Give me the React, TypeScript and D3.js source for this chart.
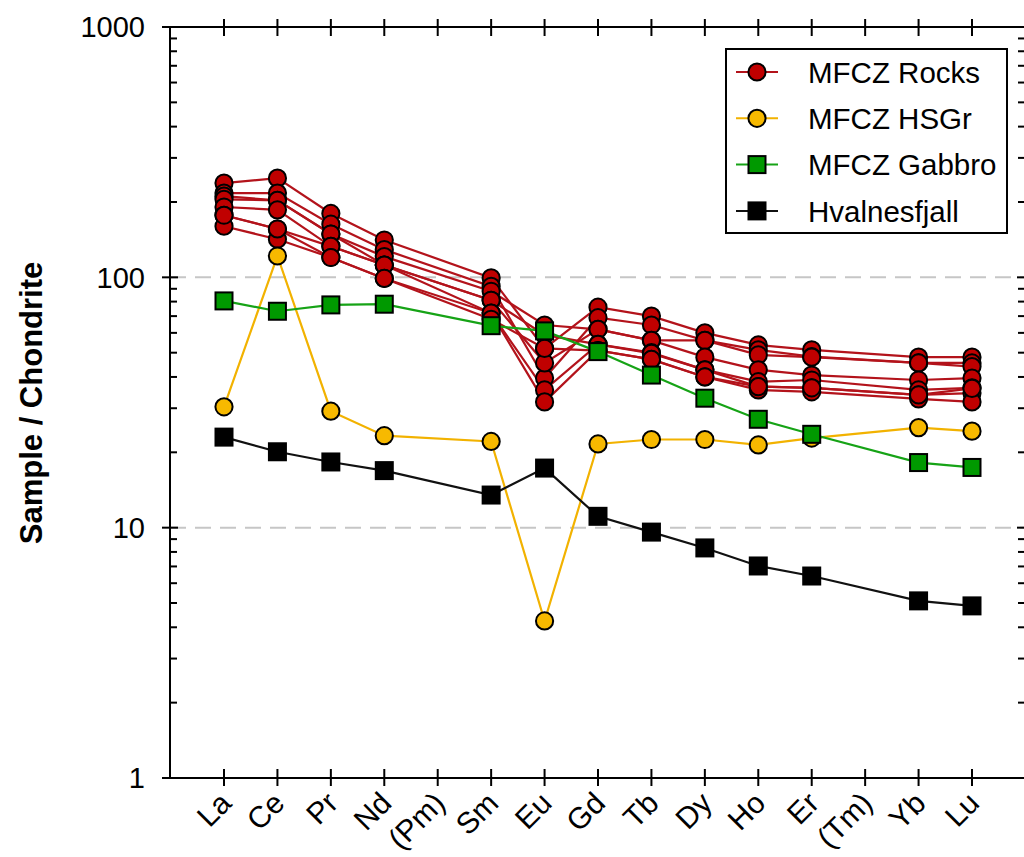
import React from "react";
import * as d3 from "d3";

// Rare earth elements along the x axis (promethium and thulium have no data)
const elements = ["La", "Ce", "Pr", "Nd", "(Pm)", "Sm", "Eu", "Gd", "Tb", "Dy", "Ho", "Er", "(Tm)", "Yb", "Lu"];
const measured = ["La", "Ce", "Pr", "Nd", "Sm", "Eu", "Gd", "Tb", "Dy", "Ho", "Er", "Yb", "Lu"];

// Chondrite-normalised values, in the order of `measured`
const rocks: number[][] = [
  [238, 249, 180, 141, 99.5, 52, 76, 70, 60, 53.7, 51.3, 48, 48],
  [217, 217, 163, 129, 92, 39.6, 69, 64.5, 56, 51.3, 48.2, 45.5, 45.5],
  [211, 203, 149, 121, 88, 64.5, 62, 56, 56, 49, 48, 45.5, 44],
  [205, 203, 149, 112, 81, 45.5, 62, 56, 48, 42.7, 40.7, 38.9, 39.6],
  [191, 186, 133, 112, 81, 58.9, 54, 50, 42.7, 38.3, 38.9, 35.5, 36.2],
  [177, 156, 133, 112, 72, 35.5, 54, 49.7, 42.7, 36.6, 36.2, 33.9, 34.5],
  [160, 142, 120, 99, 72, 31.8, 51, 47, 40, 35.5, 34.9, 32.7, 31.8],
  [177, 156, 120, 99, 68, 52, 51, 47, 40, 36.6, 36.2, 33.9, 36],
];
const hsgr = [30.4, 121.7, 29.2, 23.3, 22.1, 4.24, 21.6, 22.5, 22.5, 21.4, 22.8, 25.1, 24.3];
const gabbro = [80.5, 73.2, 77.6, 78.1, 64.1, 61.1, 50.5, 40.7, 32.9, 27.1, 23.6, 18.2, 17.4];
const hvalnesfjall = [23.0, 20.1, 18.3, 16.9, 13.5, 17.3, 11.1, 9.6, 8.3, 7.03, 6.41, 5.1, 4.87];

const legendLabels = ["MFCZ Rocks", "MFCZ HSGr", "MFCZ Gabbro", "Hvalnesfjall"];
const yMajor = [1, 10, 100, 1000];
const gridValues = [10, 100];

const FONT = "'Liberation Sans', Arial, Helvetica, sans-serif";

const W = 1024;
const H = 857;
const left = 170;
const right = 1025;
const top = 27;
const bottom = 778;

const x = d3.scalePoint<string>().domain(elements).range([224, 972]);
const y = d3.scaleLog().domain([1, 1000]).range([bottom, top]);

type Style = { line: string; fill: string; shape: "circle" | "square" };
const styles: Style[] = [
  { line: "#b3131b", fill: "#c00000", shape: "circle" },
  { line: "#f2b200", fill: "#f7b900", shape: "circle" },
  { line: "#16a316", fill: "#009900", shape: "square" },
  { line: "#111111", fill: "#000000", shape: "square" },
];

const lineGen = d3
  .line<[string, number]>()
  .x((d) => x(d[0]) as number)
  .y((d) => y(d[1]));

function pairs(vals: number[]): [string, number][] {
  return measured.map((m, i) => [m, vals[i]] as [string, number]);
}

function Marker({ cx, cy, s }: { cx: number; cy: number; s: Style }) {
  if (s.shape === "circle") {
    return <circle cx={cx} cy={cy} r={8.6} fill={s.fill} stroke="#000" strokeWidth={2} />;
  }
  return <rect x={cx - 8.5} y={cy - 8.5} width={17} height={17} fill={s.fill} stroke="#000" strokeWidth={2} />;
}

function Series({ data, s }: { data: number[][]; s: Style }) {
  return (
    <g>
      {data.map((vals, i) => (
        <path key={"l" + i} d={lineGen(pairs(vals)) || ""} fill="none" stroke={s.line} strokeWidth={2.2} />
      ))}
      {data.map((vals, i) => (
        <g key={"m" + i}>
          {pairs(vals).map(([m, v]) => (
            <Marker key={m} cx={x(m) as number} cy={y(v)} s={s} />
          ))}
        </g>
      ))}
    </g>
  );
}

export default function App() {
  const allTicks = y.ticks();
  const minor = allTicks.filter((t) => !yMajor.includes(t));

  return (
    <svg width={W} height={H} style={{ position: "absolute", left: 0, top: 0, background: "#fff" }} fontFamily={FONT}>
      <rect width={W} height={H} fill="#fff" />

      {/* dashed reference lines */}
      {gridValues.map((g) => (
        <line key={g} x1={left} x2={right} y1={y(g)} y2={y(g)} stroke="#c6c6c6" strokeWidth={2} strokeDasharray="16 9" />
      ))}

      {/* data */}
      <Series data={rocks} s={styles[0]} />
      <Series data={[hsgr]} s={styles[1]} />
      <Series data={[gabbro]} s={styles[2]} />
      <Series data={[hvalnesfjall]} s={styles[3]} />

      {/* frame */}
      <g stroke="#000" strokeWidth={2}>
        <line x1={left} x2={left} y1={top} y2={bottom} />
        <line x1={right} x2={right} y1={top} y2={bottom} />
        <line x1={left} x2={right} y1={top} y2={top} />
        <line x1={left} x2={right} y1={bottom} y2={bottom} />
        {yMajor.map((t) => (
          <g key={"M" + t}>
            <line x1={left - 8} x2={left + 8} y1={y(t)} y2={y(t)} />
            <line x1={right - 8} x2={right + 8} y1={y(t)} y2={y(t)} />
          </g>
        ))}
        {minor.map((t) => (
          <g key={"m" + t}>
            <line x1={left} x2={left + 7} y1={y(t)} y2={y(t)} />
            <line x1={right - 7} x2={right} y1={y(t)} y2={y(t)} />
          </g>
        ))}
        {elements.map((e) => (
          <g key={"t" + e}>
            <line x1={x(e) as number} x2={x(e) as number} y1={bottom - 9} y2={bottom + 8} />
            <line x1={x(e) as number} x2={x(e) as number} y1={top - 8} y2={top + 9} />
          </g>
        ))}
      </g>

      {/* y tick labels */}
      {yMajor.map((t) => (
        <text key={"yl" + t} x={145} y={y(t)} dy="0.36em" textAnchor="end" fontSize={29} fill="#000">
          {t}
        </text>
      ))}

      {/* x tick labels */}
      {elements.map((e) => (
        <text
          key={"xl" + e}
          transform={`translate(${(x(e) as number) + 9},${805}) rotate(-45)`}
          textAnchor="end"
          fontSize={30}
          fill="#000"
        >
          {e}
        </text>
      ))}

      {/* y axis title */}
      <text
        transform={`translate(${42},${403}) rotate(-90)`}
        textAnchor="middle"
        fontSize={31}
        fontWeight="bold"
        fill="#000"
      >
        Sample / Chondrite
      </text>

      {/* legend */}
      <g>
        <rect x={726} y={49} width={281} height={184} fill="#fff" stroke="#000" strokeWidth={2} />
        {legendLabels.map((lab, i) => {
          const ly = 72 + i * 46.3;
          const s = styles[i];
          return (
            <g key={lab}>
              <line x1={736} x2={778} y1={ly} y2={ly} stroke={s.line} strokeWidth={2} />
              <Marker cx={757} cy={ly} s={s} />
              <text x={808} y={ly} dy="0.36em" fontSize={29.5} fill="#000">
                {lab}
              </text>
            </g>
          );
        })}
      </g>
    </svg>
  );
}
